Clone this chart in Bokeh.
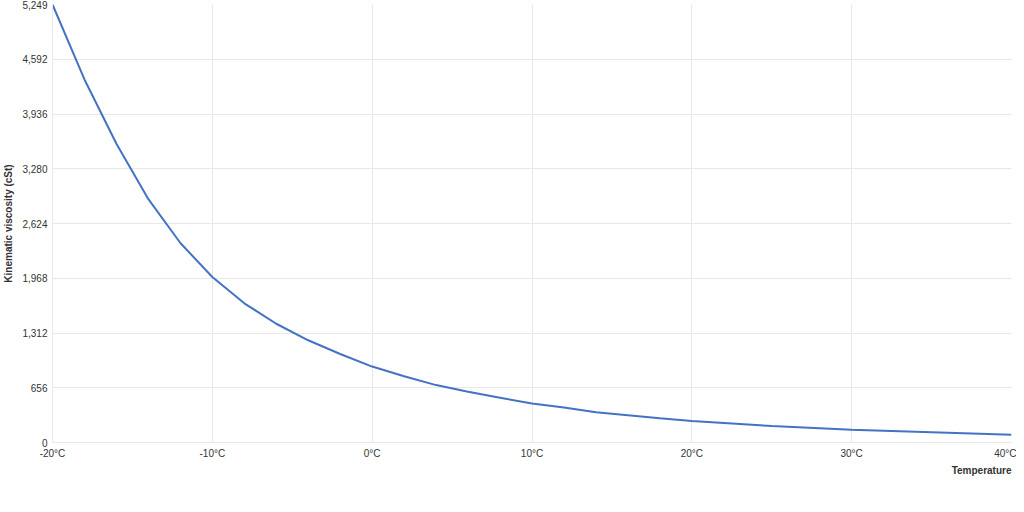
from bokeh.plotting import figure
from bokeh.models import FixedTicker, NumeralTickFormatter, Legend, LegendItem, Title, Range1d
from bokeh.embed import file_html
from bokeh.resources import INLINE

# Data
temps = [-20, -18, -16, -14, -12, -10, -8, -6, -4, -2, 0, 2, 4, 6, 8, 10, 12, 14, 16, 18, 20, 25, 30, 35, 40]
visc = [5249, 4351, 3581, 2916, 2391, 1983, 1668, 1423, 1225, 1061, 910, 793, 688, 607, 537, 467, 420, 362, 327, 290, 257, 198, 152, 122, 93]
x_ticks = [-20, -10, 0, 10, 20, 30, 40]
x_tick_labels = ["-20°C", "-10°C", "0°C", "10°C", "20°C", "30°C", "40°C"]
y_ticks = [0, 656, 1312, 1968, 2624, 3280, 3936, 4592, 5249]
series_name = "ClassicWay 10W-40"
x_title = "Temperature"
y_title = "Kinematic viscosity (cSt)"

FONT = "Liberation Sans"
LINE = "#4472c4"
GRID = "#e8e8e8"

p = figure(frame_width=959, frame_height=438, output_backend="svg", toolbar_location=None,
           x_range=Range1d(-20, 40), y_range=Range1d(0, 5249),
           min_border_left=0, min_border_right=5, min_border_top=4, min_border_bottom=0)
p.outline_line_color = None

r = p.line(temps, visc, line_color=LINE, line_width=2)

p.xaxis.ticker = FixedTicker(ticks=x_ticks)
p.xaxis.major_label_overrides = {t: l for t, l in zip(x_ticks, x_tick_labels)}
p.yaxis.ticker = FixedTicker(ticks=y_ticks)
p.yaxis.formatter = NumeralTickFormatter(format="0,0")

for ax in (p.xaxis, p.yaxis):
    ax.axis_line_color = GRID
    ax.major_tick_line_color = None
    ax.minor_tick_line_color = None
    ax.major_label_text_font = FONT
    ax.major_label_text_font_size = "10px"
    ax.major_label_text_color = "#333333"
    ax.major_tick_out = 0
    ax.major_tick_in = 0
p.xaxis.major_label_standoff = 5
p.yaxis.major_label_standoff = 5

p.yaxis.axis_label = y_title
p.yaxis.axis_label_text_font = FONT
p.yaxis.axis_label_text_font_size = "10px"
p.yaxis.axis_label_text_font_style = "bold"
p.yaxis.axis_label_text_color = "#333333"
p.yaxis.axis_label_standoff = 5

p.xgrid.grid_line_color = GRID
p.ygrid.grid_line_color = GRID

p.add_layout(Title(text=x_title, align="right", text_font=FONT, text_font_size="10px",
                   text_font_style="bold", text_color="#333333", offset=0, standoff=3), "below")

legend = Legend(items=[LegendItem(label=series_name, renderers=[r])], location="top_center",
                orientation="horizontal", border_line_color=None, background_fill_alpha=0,
                label_text_font=FONT, label_text_font_size="10px", label_text_font_style="bold",
                label_text_color="#333333", glyph_width=12, glyph_height=8, padding=0, margin=0,
                label_standoff=4, label_height=10, spacing=0)
p.add_layout(legend, "below")

open("out.html", "w").write(file_html(p, INLINE))
